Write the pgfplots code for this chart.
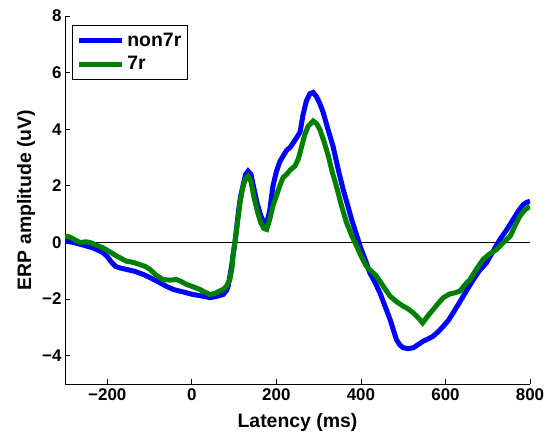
\documentclass[border=0pt]{standalone}
\usepackage{fontspec}
\setmainfont{Liberation Sans}
\usepackage{pgfplots}
\pgfplotsset{compat=1.18}
\definecolor{erpblue}{RGB}{0,0,255}
\definecolor{erpgreen}{RGB}{0,128,0}

\pgfplotstableread{
x y
-300 0.05
-280 0.0
-260 -0.08
-234 -0.19
-210 -0.36
-200 -0.5
-190 -0.7
-180 -0.85
-170 -0.9
-155 -0.95
-135 -1.02
-115 -1.13
-95 -1.27
-76 -1.42
-60 -1.55
-44 -1.66
-20 -1.75
3 -1.84
20 -1.88
43 -1.95
60 -1.9
74 -1.84
82 -1.7
86 -1.54
90 -1.2
94 -0.84
98 -0.4
102 0
106 0.5
110 1.05
115 1.6
121 2.0
127 2.4
133 2.52
140 2.4
147 1.9
155 1.35
163 0.95
170 0.72
177 0.68
184 1.1
192 2.0
200 2.5
208 2.85
216 3.05
224 3.25
232 3.35
240 3.52
248 3.7
256 3.9
263 4.5
271 5.0
279 5.25
287 5.3
295 5.15
303 4.9
311 4.58
322 4.0
334 3.40
346 2.6
358 1.87
368 1.35
378 0.81
388 0.35
398 -0.13
410 -0.6
421 -1.07
433 -1.4
445 -1.78
457 -2.25
469 -2.72
477 -3.1
484 -3.43
492 -3.62
500 -3.72
512 -3.75
524 -3.72
536 -3.6
547 -3.49
560 -3.4
571 -3.31
583 -3.15
595 -2.96
607 -2.75
618 -2.49
630 -2.2
642 -1.90
654 -1.6
666 -1.31
680 -1.0
697 -0.72
713 -0.3
729 0.11
745 0.45
760 0.81
772 1.1
784 1.34
792 1.42
800 1.45
}\nonseven

\pgfplotstableread{
x y
-300 0.22
-290 0.2
-281 0.13
-265 0.0
-250 0.02
-241 0.0
-225 -0.1
-210 -0.19
-195 -0.32
-178 -0.48
-165 -0.58
-155 -0.66
-140 -0.7
-123 -0.78
-110 -0.85
-99 -0.95
-85 -1.15
-68 -1.31
-52 -1.33
-36 -1.31
-25 -1.38
-13 -1.48
0 -1.55
19 -1.66
30 -1.75
43 -1.84
55 -1.8
65 -1.72
74 -1.66
82 -1.55
90 -1.31
95 -0.9
98 -0.4
102 0
108 0.7
114 1.40
120 1.9
127 2.25
133 2.34
140 2.15
147 1.6
155 1.1
163 0.7
170 0.5
177 0.46
184 0.8
192 1.3
200 1.64
208 2.0
216 2.3
224 2.4
232 2.55
244 2.70
252 2.95
260 3.4
267 3.8
275 4.1
287 4.29
295 4.2
303 3.99
313 3.55
323 3.05
332 2.5
342 1.99
354 1.3
366 0.70
378 0.25
390 -0.13
401 -0.5
413 -0.84
425 -1.02
437 -1.19
453 -1.55
469 -1.90
485 -2.1
500 -2.25
512 -2.35
524 -2.49
535 -2.65
546 -2.84
558 -2.6
571 -2.37
583 -2.15
595 -1.95
610 -1.82
622 -1.78
634 -1.72
646 -1.5
658 -1.31
673 -0.95
689 -0.60
705 -0.4
721 -0.25
737 0.0
753 0.22
765 0.6
776 0.93
788 1.15
800 1.28
}\seven

\begin{document}
\begin{tikzpicture}
\begin{axis}[
  scale only axis,
  width=465bp, height=368bp,
  xmin=-300, xmax=800, ymin=-5, ymax=8,
  axis x line*=bottom, axis y line*=left,
  axis line style={line width=0.9bp,-},
  tick align=inside, major tick length=5bp,
  tick style={black,line width=0.8bp},
  xtick={-200,0,200,400,600,800},
  xticklabels={−200,0,200,400,600,800},
  ytick={-4,-2,0,2,4,6,8},
  yticklabels={−4,−2,0,2,4,6,8},
  tick label style={font=\bfseries\fontsize{17}{19}\selectfont},
  xticklabel style={yshift=-1bp},
  label style={font=\bfseries\fontsize{19.5}{22}\selectfont},
  xlabel={Latency (ms)},
  ylabel={ERP amplitude (uV)},
  xlabel style={at={([yshift=-38bp]axis description cs:0.5,0)},anchor=center},
  ylabel style={at={([xshift=-39bp]axis description cs:0,0.5)},anchor=center},
  legend style={at={(0.016,0.976)},anchor=north west,draw=black,line width=0.8bp,
    font=\bfseries\fontsize{19.5}{22}\selectfont,inner xsep=4bp,inner ysep=5bp,row sep=4bp,
    nodes={inner sep=2.5bp}},
  legend cell align=left,
  legend image code/.code={\draw[#1] (0bp,0bp) -- (43bp,0bp);},
]
\addplot[black,line width=0.8bp,forget plot] coordinates {(-300,0) (800,0)};
\addplot[erpblue,line width=5bp] table[x=x,y=y] {\nonseven};
\addplot[erpgreen,line width=5bp] table[x=x,y=y] {\seven};
\legend{non7r,7r}
\coordinate (ll) at (rel axis cs:0,0);
\coordinate (ur) at (rel axis cs:1,1);
\end{axis}
\pgfresetboundingbox
\path ([shift={(-65bp,-50bp)}]ll) rectangle ([shift={(25bp,16bp)}]ur);
\end{tikzpicture}
\end{document}
